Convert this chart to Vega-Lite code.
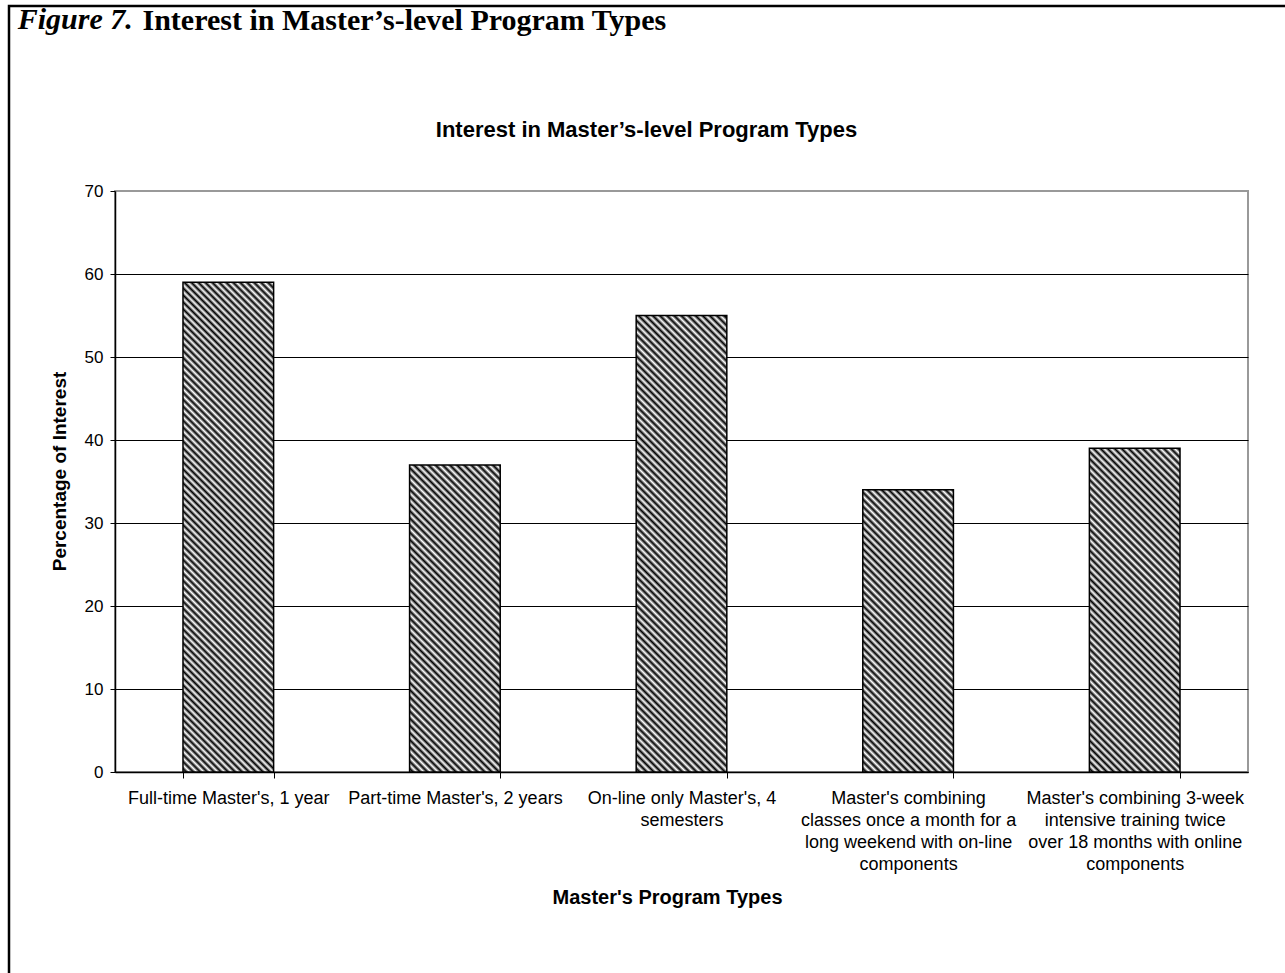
{
  "$schema": "https://vega.github.io/schema/vega-lite/v6.json",
  "autosize": {"type": "none"},
  "width": 1133,
  "height": 581,
  "padding": {"left": 115, "top": 191, "right": 37, "bottom": 201},
  "background": "#ffffff",
  "title": {
    "text": "Figure 7.",
    "anchor": "start",
    "frame": "bounds",
    "orient": "top",
    "font": "Liberation Serif",
    "fontSize": 30,
    "fontWeight": "bold",
    "fontStyle": "italic",
    "color": "#000000",
    "offset": -30,
    "dx": 10
  },
  "data": {
    "values": [
      {"type": "Full-time Master's, 1 year", "pct": 59},
      {"type": "Part-time Master's, 2 years", "pct": 37},
      {"type": "On-line only Master's, 4 semesters", "pct": 55},
      {"type": "Master's combining classes once a month for a long weekend with on-line components", "pct": 34},
      {"type": "Master's combining 3-week intensive training twice over 18 months with online components", "pct": 39}
    ]
  },
  "encoding": {
    "y": {
      "field": "pct",
      "type": "quantitative",
      "scale": {"domain": [0, 70], "nice": false},
      "axis": {
        "orient": "left",
        "title": "Percentage of Interest",
        "values": [0, 10, 20, 30, 40, 50, 60, 70],
        "grid": true,
        "gridColor": {"condition": {"test": "datum.value === 70", "value": "#999999"}, "value": "#000000"},
        "gridWidth": 1,
        "domainColor": "#000000",
        "domainWidth": 1.5,
        "tickColor": "#000000",
        "tickSize": 5,
        "tickWidth": 1,
        "labelFont": "Liberation Sans",
        "labelFontSize": 17,
        "labelColor": "#000000",
        "labelPadding": 7,
        "titleFont": "Liberation Sans",
        "titleFontSize": 19,
        "titleFontWeight": "bold",
        "titleColor": "#000000",
        "titleX": -56,
        "titleY": 280,
        "titleAngle": 270,
        "titleBaseline": "middle"
      }
    }
  },
  "layer": [
    {
      "mark": {"type": "bar", "strokeWidth": 0},
      "encoding": {
        "x": {
          "field": "type",
          "type": "nominal",
          "sort": null,
          "scale": {"paddingInner": 0.6, "paddingOuter": 0.3},
          "axis": {
            "orient": "bottom",
            "title": "Master's Program Types",
            "tickBand": "extent",
            "labelAngle": 0,
            "labelExpr": "indexof(datum.label, '4 semesters') >= 0 ? [\"On-line only Master's, 4\", \"semesters\"] : indexof(datum.label, 'long weekend') >= 0 ? [\"Master's combining\", \"classes once a month for a\", \"long weekend with on-line\", \"components\"] : indexof(datum.label, '3-week') >= 0 ? [\"Master's combining 3-week\", \"intensive training twice\", \"over 18 months with online\", \"components\"] : datum.label",
            "labelFont": "Liberation Sans",
            "labelFontSize": 18,
            "labelColor": "#000000",
            "labelLineHeight": 22,
            "labelPadding": 11,
            "labelLimit": 400,
            "labelOverlap": false,
            "labelBaseline": "top",
            "domainColor": "#000000",
            "domainWidth": 1.5,
            "tickColor": "#000000",
            "tickSize": 6,
            "tickWidth": 1,
            "grid": false,
            "titleFont": "Liberation Sans",
            "titleFontSize": 20,
            "titleFontWeight": "bold",
            "titleColor": "#000000",
            "titleX": 552,
            "titleY": 125,
            "titleBaseline": "middle"
          }
        },
        "fill": {
          "condition": [
            {"test": "indexof(datum.type, 'Full-time') >= 0", "value": {"gradient": "linear", "x1": 0, "y1": 1, "x2": 0.212, "y2": -0.1458, "stops": [
{"offset":0,"color":"#fff"},{"offset":0.006,"color":"#000"},{"offset":0.012,"color":"#fff"},{"offset":0.018,"color":"#000"},{"offset":0.024,"color":"#fff"},{"offset":0.03,"color":"#000"},{"offset":0.036,"color":"#fff"},{"offset":0.042,"color":"#000"},{"offset":0.048,"color":"#fff"},{"offset":0.054,"color":"#000"},{"offset":0.06,"color":"#fff"},{"offset":0.066,"color":"#000"},{"offset":0.072,"color":"#fff"},{"offset":0.078,"color":"#000"},{"offset":0.084,"color":"#fff"},{"offset":0.09,"color":"#000"},{"offset":0.096,"color":"#fff"},{"offset":0.102,"color":"#000"},{"offset":0.108,"color":"#fff"},{"offset":0.114,"color":"#000"},{"offset":0.12,"color":"#fff"},
{"offset":0.126,"color":"#000"},{"offset":0.132,"color":"#fff"},{"offset":0.138,"color":"#000"},{"offset":0.144,"color":"#fff"},{"offset":0.15,"color":"#000"},{"offset":0.156,"color":"#fff"},{"offset":0.162,"color":"#000"},{"offset":0.168,"color":"#fff"},{"offset":0.174,"color":"#000"},{"offset":0.18,"color":"#fff"},{"offset":0.186,"color":"#000"},{"offset":0.192,"color":"#fff"},{"offset":0.198,"color":"#000"},{"offset":0.204,"color":"#fff"},{"offset":0.21,"color":"#000"},{"offset":0.216,"color":"#fff"},{"offset":0.222,"color":"#000"},{"offset":0.228,"color":"#fff"},{"offset":0.234,"color":"#000"},{"offset":0.24,"color":"#fff"},
{"offset":0.246,"color":"#000"},{"offset":0.252,"color":"#fff"},{"offset":0.258,"color":"#000"},{"offset":0.264,"color":"#fff"},{"offset":0.27,"color":"#000"},{"offset":0.276,"color":"#fff"},{"offset":0.282,"color":"#000"},{"offset":0.288,"color":"#fff"},{"offset":0.294,"color":"#000"},{"offset":0.3,"color":"#fff"},{"offset":0.306,"color":"#000"},{"offset":0.312,"color":"#fff"},{"offset":0.318,"color":"#000"},{"offset":0.324,"color":"#fff"},{"offset":0.33,"color":"#000"},{"offset":0.336,"color":"#fff"},{"offset":0.342,"color":"#000"},{"offset":0.348,"color":"#fff"},{"offset":0.354,"color":"#000"},{"offset":0.36,"color":"#fff"},
{"offset":0.366,"color":"#000"},{"offset":0.372,"color":"#fff"},{"offset":0.378,"color":"#000"},{"offset":0.384,"color":"#fff"},{"offset":0.39,"color":"#000"},{"offset":0.396,"color":"#fff"},{"offset":0.402,"color":"#000"},{"offset":0.408,"color":"#fff"},{"offset":0.414,"color":"#000"},{"offset":0.42,"color":"#fff"},{"offset":0.426,"color":"#000"},{"offset":0.432,"color":"#fff"},{"offset":0.438,"color":"#000"},{"offset":0.444,"color":"#fff"},{"offset":0.45,"color":"#000"},{"offset":0.456,"color":"#fff"},{"offset":0.462,"color":"#000"},{"offset":0.468,"color":"#fff"},{"offset":0.474,"color":"#000"},{"offset":0.48,"color":"#fff"},
{"offset":0.486,"color":"#000"},{"offset":0.492,"color":"#fff"},{"offset":0.498,"color":"#000"},{"offset":0.504,"color":"#fff"},{"offset":0.51,"color":"#000"},{"offset":0.516,"color":"#fff"},{"offset":0.522,"color":"#000"},{"offset":0.528,"color":"#fff"},{"offset":0.534,"color":"#000"},{"offset":0.54,"color":"#fff"},{"offset":0.546,"color":"#000"},{"offset":0.552,"color":"#fff"},{"offset":0.558,"color":"#000"},{"offset":0.564,"color":"#fff"},{"offset":0.57,"color":"#000"},{"offset":0.576,"color":"#fff"},{"offset":0.582,"color":"#000"},{"offset":0.588,"color":"#fff"},{"offset":0.594,"color":"#000"},{"offset":0.6,"color":"#fff"},
{"offset":0.606,"color":"#000"},{"offset":0.612,"color":"#fff"},{"offset":0.618,"color":"#000"},{"offset":0.624,"color":"#fff"},{"offset":0.63,"color":"#000"},{"offset":0.636,"color":"#fff"},{"offset":0.642,"color":"#000"},{"offset":0.648,"color":"#fff"},{"offset":0.654,"color":"#000"},{"offset":0.66,"color":"#fff"},{"offset":0.666,"color":"#000"},{"offset":0.672,"color":"#fff"},{"offset":0.678,"color":"#000"},{"offset":0.684,"color":"#fff"},{"offset":0.69,"color":"#000"},{"offset":0.696,"color":"#fff"},{"offset":0.702,"color":"#000"},{"offset":0.708,"color":"#fff"},{"offset":0.714,"color":"#000"},{"offset":0.72,"color":"#fff"},
{"offset":0.726,"color":"#000"},{"offset":0.732,"color":"#fff"},{"offset":0.738,"color":"#000"},{"offset":0.744,"color":"#fff"},{"offset":0.75,"color":"#000"},{"offset":0.756,"color":"#fff"},{"offset":0.762,"color":"#000"},{"offset":0.768,"color":"#fff"},{"offset":0.774,"color":"#000"},{"offset":0.78,"color":"#fff"},{"offset":0.786,"color":"#000"},{"offset":0.792,"color":"#fff"},{"offset":0.798,"color":"#000"},{"offset":0.804,"color":"#fff"},{"offset":0.81,"color":"#000"},{"offset":0.816,"color":"#fff"},{"offset":0.822,"color":"#000"},{"offset":0.828,"color":"#fff"},{"offset":0.834,"color":"#000"},{"offset":0.84,"color":"#fff"},
{"offset":0.846,"color":"#000"},{"offset":0.852,"color":"#fff"},{"offset":0.858,"color":"#000"},{"offset":0.864,"color":"#fff"},{"offset":0.87,"color":"#000"},{"offset":0.876,"color":"#fff"},{"offset":0.882,"color":"#000"},{"offset":0.888,"color":"#fff"},{"offset":0.894,"color":"#000"},{"offset":0.9,"color":"#fff"},{"offset":0.906,"color":"#000"},{"offset":0.912,"color":"#fff"},{"offset":0.918,"color":"#000"},{"offset":0.924,"color":"#fff"},{"offset":0.93,"color":"#000"},{"offset":0.936,"color":"#fff"},{"offset":0.942,"color":"#000"},{"offset":0.948,"color":"#fff"},{"offset":0.954,"color":"#000"},{"offset":0.96,"color":"#fff"},
{"offset":0.966,"color":"#000"},{"offset":0.972,"color":"#fff"},{"offset":0.978,"color":"#000"},{"offset":0.984,"color":"#fff"},{"offset":0.99,"color":"#000"},{"offset":0.996,"color":"#fff"}
            ]}},
            {"test": "indexof(datum.type, 'Part-time') >= 0", "value": {"gradient": "linear", "x1": 0, "y1": 1, "x2": 0.3515, "y2": -0.1913, "stops": [
{"offset":0,"color":"#fff"},{"offset":0.009,"color":"#000"},{"offset":0.018,"color":"#fff"},{"offset":0.027,"color":"#000"},{"offset":0.036,"color":"#fff"},{"offset":0.045,"color":"#000"},{"offset":0.054,"color":"#fff"},{"offset":0.063,"color":"#000"},{"offset":0.072,"color":"#fff"},{"offset":0.081,"color":"#000"},{"offset":0.09,"color":"#fff"},{"offset":0.099,"color":"#000"},{"offset":0.108,"color":"#fff"},{"offset":0.117,"color":"#000"},{"offset":0.126,"color":"#fff"},{"offset":0.135,"color":"#000"},{"offset":0.144,"color":"#fff"},{"offset":0.153,"color":"#000"},{"offset":0.162,"color":"#fff"},{"offset":0.171,"color":"#000"},{"offset":0.18,"color":"#fff"},
{"offset":0.189,"color":"#000"},{"offset":0.198,"color":"#fff"},{"offset":0.207,"color":"#000"},{"offset":0.216,"color":"#fff"},{"offset":0.225,"color":"#000"},{"offset":0.234,"color":"#fff"},{"offset":0.243,"color":"#000"},{"offset":0.252,"color":"#fff"},{"offset":0.261,"color":"#000"},{"offset":0.27,"color":"#fff"},{"offset":0.279,"color":"#000"},{"offset":0.288,"color":"#fff"},{"offset":0.297,"color":"#000"},{"offset":0.306,"color":"#fff"},{"offset":0.315,"color":"#000"},{"offset":0.324,"color":"#fff"},{"offset":0.333,"color":"#000"},{"offset":0.342,"color":"#fff"},{"offset":0.351,"color":"#000"},{"offset":0.36,"color":"#fff"},
{"offset":0.369,"color":"#000"},{"offset":0.378,"color":"#fff"},{"offset":0.387,"color":"#000"},{"offset":0.396,"color":"#fff"},{"offset":0.405,"color":"#000"},{"offset":0.414,"color":"#fff"},{"offset":0.423,"color":"#000"},{"offset":0.432,"color":"#fff"},{"offset":0.441,"color":"#000"},{"offset":0.45,"color":"#fff"},{"offset":0.459,"color":"#000"},{"offset":0.468,"color":"#fff"},{"offset":0.477,"color":"#000"},{"offset":0.486,"color":"#fff"},{"offset":0.495,"color":"#000"},{"offset":0.504,"color":"#fff"},{"offset":0.513,"color":"#000"},{"offset":0.522,"color":"#fff"},{"offset":0.531,"color":"#000"},{"offset":0.54,"color":"#fff"},
{"offset":0.549,"color":"#000"},{"offset":0.558,"color":"#fff"},{"offset":0.567,"color":"#000"},{"offset":0.576,"color":"#fff"},{"offset":0.585,"color":"#000"},{"offset":0.594,"color":"#fff"},{"offset":0.603,"color":"#000"},{"offset":0.612,"color":"#fff"},{"offset":0.621,"color":"#000"},{"offset":0.63,"color":"#fff"},{"offset":0.639,"color":"#000"},{"offset":0.648,"color":"#fff"},{"offset":0.657,"color":"#000"},{"offset":0.666,"color":"#fff"},{"offset":0.675,"color":"#000"},{"offset":0.684,"color":"#fff"},{"offset":0.693,"color":"#000"},{"offset":0.702,"color":"#fff"},{"offset":0.711,"color":"#000"},{"offset":0.72,"color":"#fff"},
{"offset":0.729,"color":"#000"},{"offset":0.738,"color":"#fff"},{"offset":0.747,"color":"#000"},{"offset":0.756,"color":"#fff"},{"offset":0.765,"color":"#000"},{"offset":0.774,"color":"#fff"},{"offset":0.783,"color":"#000"},{"offset":0.792,"color":"#fff"},{"offset":0.801,"color":"#000"},{"offset":0.81,"color":"#fff"},{"offset":0.819,"color":"#000"},{"offset":0.828,"color":"#fff"},{"offset":0.837,"color":"#000"},{"offset":0.846,"color":"#fff"},{"offset":0.855,"color":"#000"},{"offset":0.864,"color":"#fff"},{"offset":0.873,"color":"#000"},{"offset":0.882,"color":"#fff"},{"offset":0.891,"color":"#000"},{"offset":0.9,"color":"#fff"},
{"offset":0.909,"color":"#000"},{"offset":0.918,"color":"#fff"},{"offset":0.927,"color":"#000"},{"offset":0.936,"color":"#fff"},{"offset":0.945,"color":"#000"},{"offset":0.954,"color":"#fff"},{"offset":0.963,"color":"#000"},{"offset":0.972,"color":"#fff"},{"offset":0.981,"color":"#000"},{"offset":0.99,"color":"#fff"},{"offset":0.999,"color":"#000"}
            ]}},
            {"test": "indexof(datum.type, 'On-line only') >= 0", "value": {"gradient": "linear", "x1": 0, "y1": 1, "x2": 0.2288, "y2": -0.1531, "stops": [
{"offset":0,"color":"#fff"},{"offset":0.0065,"color":"#000"},{"offset":0.013,"color":"#fff"},{"offset":0.0195,"color":"#000"},{"offset":0.026,"color":"#fff"},{"offset":0.0325,"color":"#000"},{"offset":0.039,"color":"#fff"},{"offset":0.0455,"color":"#000"},{"offset":0.052,"color":"#fff"},{"offset":0.0585,"color":"#000"},{"offset":0.065,"color":"#fff"},{"offset":0.0715,"color":"#000"},{"offset":0.078,"color":"#fff"},{"offset":0.0845,"color":"#000"},{"offset":0.091,"color":"#fff"},{"offset":0.0975,"color":"#000"},{"offset":0.104,"color":"#fff"},{"offset":0.1105,"color":"#000"},{"offset":0.117,"color":"#fff"},{"offset":0.1235,"color":"#000"},{"offset":0.13,"color":"#fff"},
{"offset":0.1365,"color":"#000"},{"offset":0.143,"color":"#fff"},{"offset":0.1495,"color":"#000"},{"offset":0.156,"color":"#fff"},{"offset":0.1625,"color":"#000"},{"offset":0.169,"color":"#fff"},{"offset":0.1755,"color":"#000"},{"offset":0.182,"color":"#fff"},{"offset":0.1885,"color":"#000"},{"offset":0.195,"color":"#fff"},{"offset":0.2015,"color":"#000"},{"offset":0.208,"color":"#fff"},{"offset":0.2145,"color":"#000"},{"offset":0.221,"color":"#fff"},{"offset":0.2275,"color":"#000"},{"offset":0.234,"color":"#fff"},{"offset":0.2405,"color":"#000"},{"offset":0.247,"color":"#fff"},{"offset":0.2535,"color":"#000"},{"offset":0.26,"color":"#fff"},
{"offset":0.2665,"color":"#000"},{"offset":0.273,"color":"#fff"},{"offset":0.2795,"color":"#000"},{"offset":0.286,"color":"#fff"},{"offset":0.2925,"color":"#000"},{"offset":0.299,"color":"#fff"},{"offset":0.3055,"color":"#000"},{"offset":0.312,"color":"#fff"},{"offset":0.3185,"color":"#000"},{"offset":0.325,"color":"#fff"},{"offset":0.3315,"color":"#000"},{"offset":0.338,"color":"#fff"},{"offset":0.3445,"color":"#000"},{"offset":0.351,"color":"#fff"},{"offset":0.3575,"color":"#000"},{"offset":0.364,"color":"#fff"},{"offset":0.3705,"color":"#000"},{"offset":0.377,"color":"#fff"},{"offset":0.3835,"color":"#000"},{"offset":0.39,"color":"#fff"},
{"offset":0.3965,"color":"#000"},{"offset":0.403,"color":"#fff"},{"offset":0.4095,"color":"#000"},{"offset":0.416,"color":"#fff"},{"offset":0.4225,"color":"#000"},{"offset":0.429,"color":"#fff"},{"offset":0.4355,"color":"#000"},{"offset":0.442,"color":"#fff"},{"offset":0.4485,"color":"#000"},{"offset":0.455,"color":"#fff"},{"offset":0.4615,"color":"#000"},{"offset":0.468,"color":"#fff"},{"offset":0.4745,"color":"#000"},{"offset":0.481,"color":"#fff"},{"offset":0.4875,"color":"#000"},{"offset":0.494,"color":"#fff"},{"offset":0.5005,"color":"#000"},{"offset":0.507,"color":"#fff"},{"offset":0.5135,"color":"#000"},{"offset":0.52,"color":"#fff"},
{"offset":0.5265,"color":"#000"},{"offset":0.533,"color":"#fff"},{"offset":0.5395,"color":"#000"},{"offset":0.546,"color":"#fff"},{"offset":0.5525,"color":"#000"},{"offset":0.559,"color":"#fff"},{"offset":0.5655,"color":"#000"},{"offset":0.572,"color":"#fff"},{"offset":0.5785,"color":"#000"},{"offset":0.585,"color":"#fff"},{"offset":0.5915,"color":"#000"},{"offset":0.598,"color":"#fff"},{"offset":0.6045,"color":"#000"},{"offset":0.611,"color":"#fff"},{"offset":0.6175,"color":"#000"},{"offset":0.624,"color":"#fff"},{"offset":0.6305,"color":"#000"},{"offset":0.637,"color":"#fff"},{"offset":0.6435,"color":"#000"},{"offset":0.65,"color":"#fff"},
{"offset":0.6565,"color":"#000"},{"offset":0.663,"color":"#fff"},{"offset":0.6695,"color":"#000"},{"offset":0.676,"color":"#fff"},{"offset":0.6825,"color":"#000"},{"offset":0.689,"color":"#fff"},{"offset":0.6955,"color":"#000"},{"offset":0.702,"color":"#fff"},{"offset":0.7085,"color":"#000"},{"offset":0.715,"color":"#fff"},{"offset":0.7215,"color":"#000"},{"offset":0.728,"color":"#fff"},{"offset":0.7345,"color":"#000"},{"offset":0.741,"color":"#fff"},{"offset":0.7475,"color":"#000"},{"offset":0.754,"color":"#fff"},{"offset":0.7605,"color":"#000"},{"offset":0.767,"color":"#fff"},{"offset":0.7735,"color":"#000"},{"offset":0.78,"color":"#fff"},
{"offset":0.7865,"color":"#000"},{"offset":0.793,"color":"#fff"},{"offset":0.7995,"color":"#000"},{"offset":0.806,"color":"#fff"},{"offset":0.8125,"color":"#000"},{"offset":0.819,"color":"#fff"},{"offset":0.8255,"color":"#000"},{"offset":0.832,"color":"#fff"},{"offset":0.8385,"color":"#000"},{"offset":0.845,"color":"#fff"},{"offset":0.8515,"color":"#000"},{"offset":0.858,"color":"#fff"},{"offset":0.8645,"color":"#000"},{"offset":0.871,"color":"#fff"},{"offset":0.8775,"color":"#000"},{"offset":0.884,"color":"#fff"},{"offset":0.8905,"color":"#000"},{"offset":0.897,"color":"#fff"},{"offset":0.9035,"color":"#000"},{"offset":0.91,"color":"#fff"},
{"offset":0.9165,"color":"#000"},{"offset":0.923,"color":"#fff"},{"offset":0.9295,"color":"#000"},{"offset":0.936,"color":"#fff"},{"offset":0.9425,"color":"#000"},{"offset":0.949,"color":"#fff"},{"offset":0.9555,"color":"#000"},{"offset":0.962,"color":"#fff"},{"offset":0.9685,"color":"#000"},{"offset":0.975,"color":"#fff"},{"offset":0.9815,"color":"#000"},{"offset":0.988,"color":"#fff"},{"offset":0.9945,"color":"#000"}
            ]}},
            {"test": "indexof(datum.type, 'long weekend') >= 0", "value": {"gradient": "linear", "x1": 0, "y1": 1, "x2": 0.3845, "y2": -0.1976, "stops": [
{"offset":0,"color":"#fff"},{"offset":0.0095,"color":"#000"},{"offset":0.019,"color":"#fff"},{"offset":0.0285,"color":"#000"},{"offset":0.038,"color":"#fff"},{"offset":0.0475,"color":"#000"},{"offset":0.057,"color":"#fff"},{"offset":0.0665,"color":"#000"},{"offset":0.076,"color":"#fff"},{"offset":0.0855,"color":"#000"},{"offset":0.095,"color":"#fff"},{"offset":0.1045,"color":"#000"},{"offset":0.114,"color":"#fff"},{"offset":0.1235,"color":"#000"},{"offset":0.133,"color":"#fff"},{"offset":0.1425,"color":"#000"},{"offset":0.152,"color":"#fff"},{"offset":0.1615,"color":"#000"},{"offset":0.171,"color":"#fff"},{"offset":0.1805,"color":"#000"},{"offset":0.19,"color":"#fff"},
{"offset":0.1995,"color":"#000"},{"offset":0.209,"color":"#fff"},{"offset":0.2185,"color":"#000"},{"offset":0.228,"color":"#fff"},{"offset":0.2375,"color":"#000"},{"offset":0.247,"color":"#fff"},{"offset":0.2565,"color":"#000"},{"offset":0.266,"color":"#fff"},{"offset":0.2755,"color":"#000"},{"offset":0.285,"color":"#fff"},{"offset":0.2945,"color":"#000"},{"offset":0.304,"color":"#fff"},{"offset":0.3135,"color":"#000"},{"offset":0.323,"color":"#fff"},{"offset":0.3325,"color":"#000"},{"offset":0.342,"color":"#fff"},{"offset":0.3515,"color":"#000"},{"offset":0.361,"color":"#fff"},{"offset":0.3705,"color":"#000"},{"offset":0.38,"color":"#fff"},
{"offset":0.3895,"color":"#000"},{"offset":0.399,"color":"#fff"},{"offset":0.4085,"color":"#000"},{"offset":0.418,"color":"#fff"},{"offset":0.4275,"color":"#000"},{"offset":0.437,"color":"#fff"},{"offset":0.4465,"color":"#000"},{"offset":0.456,"color":"#fff"},{"offset":0.4655,"color":"#000"},{"offset":0.475,"color":"#fff"},{"offset":0.4845,"color":"#000"},{"offset":0.494,"color":"#fff"},{"offset":0.5035,"color":"#000"},{"offset":0.513,"color":"#fff"},{"offset":0.5225,"color":"#000"},{"offset":0.532,"color":"#fff"},{"offset":0.5415,"color":"#000"},{"offset":0.551,"color":"#fff"},{"offset":0.5605,"color":"#000"},{"offset":0.57,"color":"#fff"},
{"offset":0.5795,"color":"#000"},{"offset":0.589,"color":"#fff"},{"offset":0.5985,"color":"#000"},{"offset":0.608,"color":"#fff"},{"offset":0.6175,"color":"#000"},{"offset":0.627,"color":"#fff"},{"offset":0.6365,"color":"#000"},{"offset":0.646,"color":"#fff"},{"offset":0.6555,"color":"#000"},{"offset":0.665,"color":"#fff"},{"offset":0.6745,"color":"#000"},{"offset":0.684,"color":"#fff"},{"offset":0.6935,"color":"#000"},{"offset":0.703,"color":"#fff"},{"offset":0.7125,"color":"#000"},{"offset":0.722,"color":"#fff"},{"offset":0.7315,"color":"#000"},{"offset":0.741,"color":"#fff"},{"offset":0.7505,"color":"#000"},{"offset":0.76,"color":"#fff"},
{"offset":0.7695,"color":"#000"},{"offset":0.779,"color":"#fff"},{"offset":0.7885,"color":"#000"},{"offset":0.798,"color":"#fff"},{"offset":0.8075,"color":"#000"},{"offset":0.817,"color":"#fff"},{"offset":0.8265,"color":"#000"},{"offset":0.836,"color":"#fff"},{"offset":0.8455,"color":"#000"},{"offset":0.855,"color":"#fff"},{"offset":0.8645,"color":"#000"},{"offset":0.874,"color":"#fff"},{"offset":0.8835,"color":"#000"},{"offset":0.893,"color":"#fff"},{"offset":0.9025,"color":"#000"},{"offset":0.912,"color":"#fff"},{"offset":0.9215,"color":"#000"},{"offset":0.931,"color":"#fff"},{"offset":0.9405,"color":"#000"},{"offset":0.95,"color":"#fff"},
{"offset":0.9595,"color":"#000"},{"offset":0.969,"color":"#fff"},{"offset":0.9785,"color":"#000"},{"offset":0.988,"color":"#fff"},{"offset":0.9975,"color":"#000"}
            ]}}
          ],
          "value": {"gradient": "linear", "x1": 0, "y1": 1, "x2": 0.3322, "y2": -0.1869, "stops": [
{"offset":0,"color":"#fff"},{"offset":0.0085,"color":"#000"},{"offset":0.017,"color":"#fff"},{"offset":0.0255,"color":"#000"},{"offset":0.034,"color":"#fff"},{"offset":0.0425,"color":"#000"},{"offset":0.051,"color":"#fff"},{"offset":0.0595,"color":"#000"},{"offset":0.068,"color":"#fff"},{"offset":0.0765,"color":"#000"},{"offset":0.085,"color":"#fff"},{"offset":0.0935,"color":"#000"},{"offset":0.102,"color":"#fff"},{"offset":0.1105,"color":"#000"},{"offset":0.119,"color":"#fff"},{"offset":0.1275,"color":"#000"},{"offset":0.136,"color":"#fff"},{"offset":0.1445,"color":"#000"},{"offset":0.153,"color":"#fff"},{"offset":0.1615,"color":"#000"},{"offset":0.17,"color":"#fff"},
{"offset":0.1785,"color":"#000"},{"offset":0.187,"color":"#fff"},{"offset":0.1955,"color":"#000"},{"offset":0.204,"color":"#fff"},{"offset":0.2125,"color":"#000"},{"offset":0.221,"color":"#fff"},{"offset":0.2295,"color":"#000"},{"offset":0.238,"color":"#fff"},{"offset":0.2465,"color":"#000"},{"offset":0.255,"color":"#fff"},{"offset":0.2635,"color":"#000"},{"offset":0.272,"color":"#fff"},{"offset":0.2805,"color":"#000"},{"offset":0.289,"color":"#fff"},{"offset":0.2975,"color":"#000"},{"offset":0.306,"color":"#fff"},{"offset":0.3145,"color":"#000"},{"offset":0.323,"color":"#fff"},{"offset":0.3315,"color":"#000"},{"offset":0.34,"color":"#fff"},
{"offset":0.3485,"color":"#000"},{"offset":0.357,"color":"#fff"},{"offset":0.3655,"color":"#000"},{"offset":0.374,"color":"#fff"},{"offset":0.3825,"color":"#000"},{"offset":0.391,"color":"#fff"},{"offset":0.3995,"color":"#000"},{"offset":0.408,"color":"#fff"},{"offset":0.4165,"color":"#000"},{"offset":0.425,"color":"#fff"},{"offset":0.4335,"color":"#000"},{"offset":0.442,"color":"#fff"},{"offset":0.4505,"color":"#000"},{"offset":0.459,"color":"#fff"},{"offset":0.4675,"color":"#000"},{"offset":0.476,"color":"#fff"},{"offset":0.4845,"color":"#000"},{"offset":0.493,"color":"#fff"},{"offset":0.5015,"color":"#000"},{"offset":0.51,"color":"#fff"},
{"offset":0.5185,"color":"#000"},{"offset":0.527,"color":"#fff"},{"offset":0.5355,"color":"#000"},{"offset":0.544,"color":"#fff"},{"offset":0.5525,"color":"#000"},{"offset":0.561,"color":"#fff"},{"offset":0.5695,"color":"#000"},{"offset":0.578,"color":"#fff"},{"offset":0.5865,"color":"#000"},{"offset":0.595,"color":"#fff"},{"offset":0.6035,"color":"#000"},{"offset":0.612,"color":"#fff"},{"offset":0.6205,"color":"#000"},{"offset":0.629,"color":"#fff"},{"offset":0.6375,"color":"#000"},{"offset":0.646,"color":"#fff"},{"offset":0.6545,"color":"#000"},{"offset":0.663,"color":"#fff"},{"offset":0.6715,"color":"#000"},{"offset":0.68,"color":"#fff"},
{"offset":0.6885,"color":"#000"},{"offset":0.697,"color":"#fff"},{"offset":0.7055,"color":"#000"},{"offset":0.714,"color":"#fff"},{"offset":0.7225,"color":"#000"},{"offset":0.731,"color":"#fff"},{"offset":0.7395,"color":"#000"},{"offset":0.748,"color":"#fff"},{"offset":0.7565,"color":"#000"},{"offset":0.765,"color":"#fff"},{"offset":0.7735,"color":"#000"},{"offset":0.782,"color":"#fff"},{"offset":0.7905,"color":"#000"},{"offset":0.799,"color":"#fff"},{"offset":0.8075,"color":"#000"},{"offset":0.816,"color":"#fff"},{"offset":0.8245,"color":"#000"},{"offset":0.833,"color":"#fff"},{"offset":0.8415,"color":"#000"},{"offset":0.85,"color":"#fff"},
{"offset":0.8585,"color":"#000"},{"offset":0.867,"color":"#fff"},{"offset":0.8755,"color":"#000"},{"offset":0.884,"color":"#fff"},{"offset":0.8925,"color":"#000"},{"offset":0.901,"color":"#fff"},{"offset":0.9095,"color":"#000"},{"offset":0.918,"color":"#fff"},{"offset":0.9265,"color":"#000"},{"offset":0.935,"color":"#fff"},{"offset":0.9435,"color":"#000"},{"offset":0.952,"color":"#fff"},{"offset":0.9605,"color":"#000"},{"offset":0.969,"color":"#fff"},{"offset":0.9775,"color":"#000"},{"offset":0.986,"color":"#fff"},{"offset":0.9945,"color":"#000"}
          ]}
        }
      }
    },
    {
      "mark": {"type": "bar", "fillOpacity": 0, "strokeWidth": 1.5},
      "encoding": {
        "x": {
          "field": "type",
          "type": "nominal",
          "sort": null,
          "scale": {"paddingInner": 0.6, "paddingOuter": 0.3},
          "axis": {
            "orient": "top",
            "title": "Interest in Master’s-level Program Types",
            "domain": false,
            "ticks": false,
            "labels": false,
            "grid": false,
            "titleFont": "Liberation Serif",
            "titleFontSize": 30,
            "titleFontWeight": "bold",
            "titleColor": "#000000",
            "titleX": 27,
            "titleY": -162,
            "titleAlign": "left",
            "titleBaseline": "alphabetic"
          }
        },
        "y": {
          "field": "pct",
          "type": "quantitative",
          "scale": {"domain": [0, 70], "nice": false},
          "axis": {
            "orient": "right",
            "title": "Interest in Master’s-level Program Types",
            "domain": false,
            "ticks": false,
            "labels": false,
            "grid": false,
            "titleFont": "Liberation Sans",
            "titleFontSize": 22,
            "titleFontWeight": "bold",
            "titleColor": "#000000",
            "titleAngle": 0,
            "titleX": -602,
            "titleY": -62,
            "titleAlign": "center",
            "titleBaseline": "middle"
          }
        },
        "stroke": {
          "field": "pct",
          "type": "quantitative",
          "scale": {"range": ["#000000", "#000000"]},
          "legend": {
            "orient": "none",
            "legendX": -106,
            "legendY": -185,
            "title": null,
            "padding": 1400,
            "strokeColor": "#000000",
            "direction": "vertical",
            "gradientOpacity": 0,
            "labelOpacity": 0,
            "labelExpr": "''"
          }
        }
      }
    }
  ],
  "resolve": {"axis": {"x": "independent", "y": "independent"}},
  "config": {
    "font": "Liberation Sans",
    "view": {"stroke": "#999999", "strokeWidth": 2},
    "legend": {"strokeWidth": 2.5, "gradientOpacity": 0, "labelOpacity": 0, "gradientStrokeWidth": 0},
    "axis": {"domainColor": "#000000", "tickColor": "#000000", "labelColor": "#000000", "titleColor": "#000000"}
  }
}
